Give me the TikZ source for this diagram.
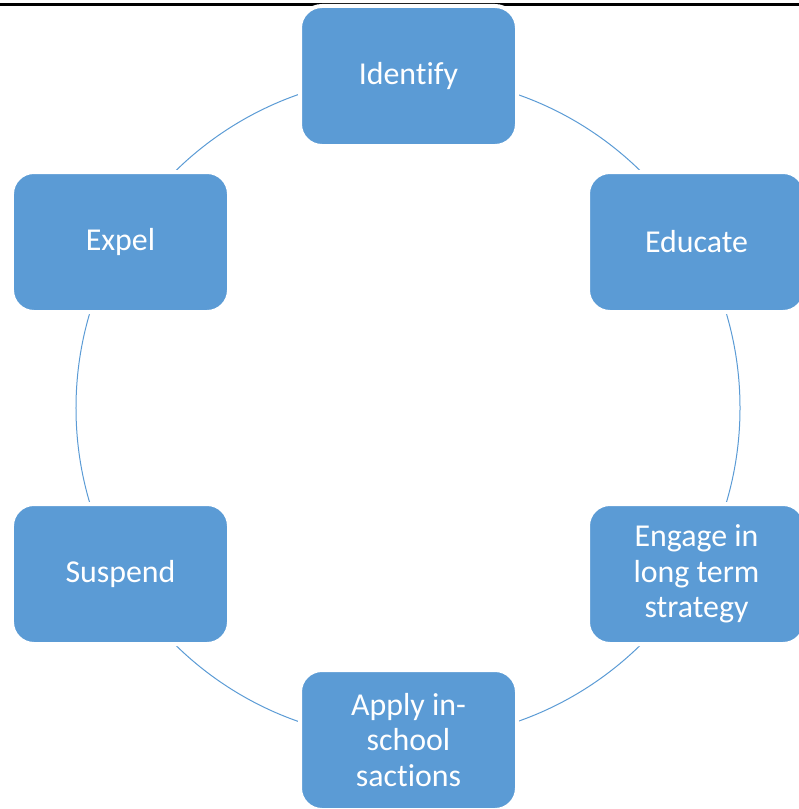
\documentclass[tikz,border=0pt]{standalone}
\usepackage{fontspec}
\setmainfont{Carlito}[Ligatures=NoCommon]
\definecolor{boxblue}{HTML}{5B9BD5}
\begin{document}
\begin{tikzpicture}[x=1bp,y=-1bp,
  stagebox/.style={draw=white,line width=4bp,fill=boxblue,rounded corners=22bp,
    minimum width=217bp,minimum height=140bp,inner sep=0pt,align=center,
    text=white,font=\fontsize{32}{35.5}\selectfont},
  ring/.style={draw=boxblue,line width=1bp}]
\useasboundingbox (0,0) rectangle (799,809);
\clip (0,0) rectangle (799,809);
\draw[line width=3bp] (0,5) -- (799,5);
\node[ring,circle,minimum size=664bp,inner sep=0pt] (cyc) at (408,408) {};
\node[stagebox] (identify) at (408.5,76) {Identify};
\node[stagebox] (educate) at (696.5,242) {Educate};
\node[stagebox] (engage) at (696.5,574) {Engage in\\long term\\strategy};
\node[stagebox] (apply) at (408.5,740) {Apply in-\\school\\sactions};
\node[stagebox] (suspend) at (120.5,574) {Suspend};
\node[stagebox] (expel) at (120.5,242) {Expel};
\end{tikzpicture}
\end{document}
